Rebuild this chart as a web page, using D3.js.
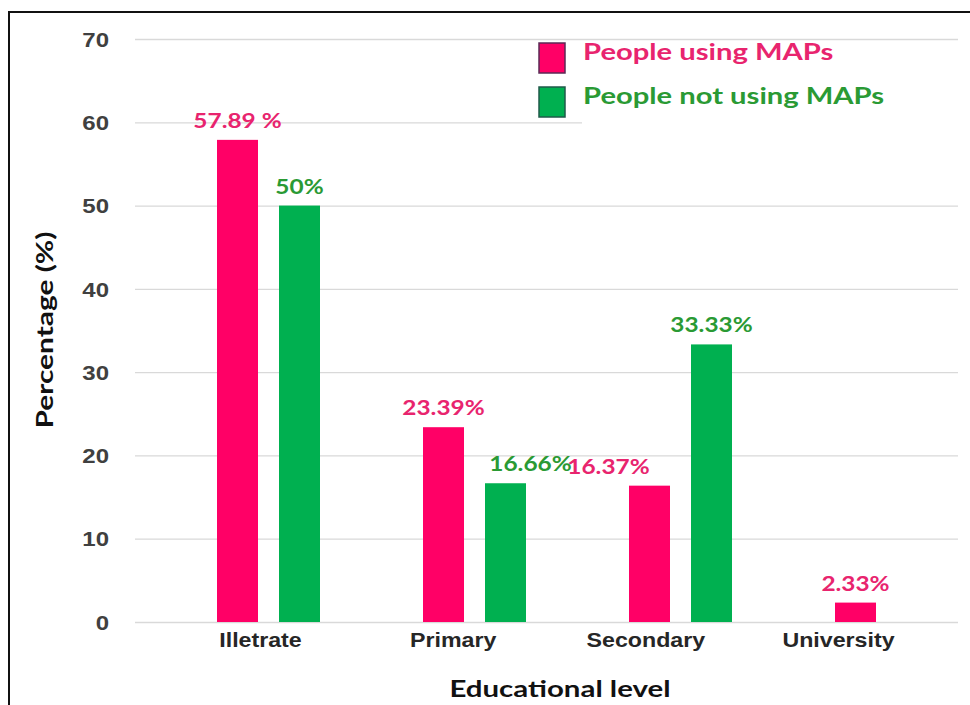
<!DOCTYPE html>
<html><head><meta charset="utf-8">
<script src="https://cdn.jsdelivr.net/npm/d3@7"></script>
<style>body{margin:0;background:#fff}svg{display:block;font-family:Lato,"Open Sans",sans-serif}</style>
</head><body>
<svg id="c" width="970" height="705"></svg>
<script>
const categories = ["Illetrate", "Primary", "Secondary", "University"];
const seriesNames = ["People using MAPs", "People not using MAPs"];
const usingMaps = [57.89, 23.39, 16.37, 2.33];
const notUsingMaps = [50, 16.66, 33.33, null];
const usingLabels = ["57.89 %", "23.39%", "16.37%", "2.33%"];
const notUsingLabels = ["50%", "16.66%", "33.33%", null];
const yTicks = [0, 10, 20, 30, 40, 50, 60, 70];

const barColors = ["#ff0066", "#00b050"];
const textColors = ["#e8246e", "#2a9a34"];
const strokeColors = ["#5b2a55", "#1f5a4a"];

function stretch(sel, k) {
  sel.each(function () {
    const t = d3.select(this);
    const x = +t.attr("x") || 0, yy = +t.attr("y") || 0;
    const prev = t.attr("transform") || "";
    t.attr("x", 0).attr("y", 0).attr("transform", prev + ` translate(${x},${yy}) scale(${k},1)`);
  });
}

const svg = d3.select("#c");
svg.append("path").attr("d", "M9,705V12H970").attr("fill", "none").attr("stroke", "#111").attr("stroke-width", 2);

const y = d3.scaleLinear().domain([0, 70]).range([622, 39]);
const x0 = d3.scaleBand().domain(categories).range([165.5, 989.5]).paddingInner(0).paddingOuter(0);
const x1 = d3.scaleBand().domain([0, 1]).range([51.5, 154.5]).paddingInner(21 / 62);
const xLabel = d3.scalePoint().domain(categories).range([260, 838]);

const yAxis = d3.axisLeft(y).tickValues(yTicks).tickSize(-823).tickPadding(26);
const gy = svg.append("g").attr("transform", "translate(135,0)").call(yAxis);
gy.select(".domain").remove();
gy.selectAll(".tick line").attr("stroke", "#d9d9d9").attr("stroke-width", 1.3);
gy.selectAll(".tick text").attr("fill", "#404040").attr("font-size", 20).attr("font-weight", 700).attr("dy", "0.36em");
stretch(gy.selectAll(".tick text"), 1.2);

svg.append("rect").attr("x", 582).attr("y", 100).attr("width", 380).attr("height", 28).attr("fill", "#fff");

const data = [];
categories.forEach((c, i) => {
  [usingMaps[i], notUsingMaps[i]].forEach((v, s) => {
    if (v != null) data.push({ c, s, v, label: s === 0 ? usingLabels[i] : notUsingLabels[i] });
  });
});

const nudge = { "Primary|1": 25, "Secondary|0": -41 };

svg.append("g").selectAll("rect").data(data).join("rect")
  .attr("x", d => x0(d.c) + x1(d.s))
  .attr("width", x1.bandwidth())
  .attr("y", d => y(d.v))
  .attr("height", d => y(0) - y(d.v))
  .attr("fill", d => barColors[d.s]);

const vl = svg.append("g").selectAll("text").data(data).join("text")
  .attr("x", d => x0(d.c) + x1(d.s) + x1.bandwidth() / 2 + (nudge[d.c + "|" + d.s] || 0))
  .attr("y", d => y(d.v) - 12)
  .attr("text-anchor", "middle")
  .attr("font-size", 20).attr("font-weight", 700)
  .attr("fill", d => textColors[d.s])
  .text(d => d.label);
stretch(vl, 1.22);

const xAxis = d3.axisBottom(xLabel).tickSize(0).tickPadding(10);
const gx = svg.append("g").attr("transform", "translate(0,622)").call(xAxis);
gx.select(".domain").remove();
gx.selectAll(".tick text").attr("fill", "#262626").attr("font-size", 20).attr("font-weight", 700).attr("dy", "0.75em");
stretch(gx.selectAll(".tick text"), 1.16);

const xt = svg.append("text").attr("x", 560).attr("y", 697).attr("text-anchor", "middle")
  .attr("font-size", 23).attr("font-weight", 700).attr("fill", "#111").text("Educational level");
stretch(xt, 1.28);
svg.append("text").attr("transform", "translate(53,330) rotate(-90) scale(1.3,1)").attr("text-anchor", "middle")
  .attr("font-size", 23).attr("font-weight", 700).attr("fill", "#111").text("Percentage (%)");

const lg = svg.append("g");
seriesNames.forEach((n, i) => {
  lg.append("rect").attr("x", 539).attr("y", 43 + i * 44).attr("width", 26).attr("height", 30)
    .attr("fill", barColors[i]).attr("stroke", strokeColors[i]).attr("stroke-width", 1.5);
  const t = lg.append("text").attr("x", 583).attr("y", 60 + i * 44)
    .attr("font-size", 23).attr("font-weight", 700).attr("fill", textColors[i]).text(n);
  stretch(t, 1.27);
});
</script>
</body></html>
